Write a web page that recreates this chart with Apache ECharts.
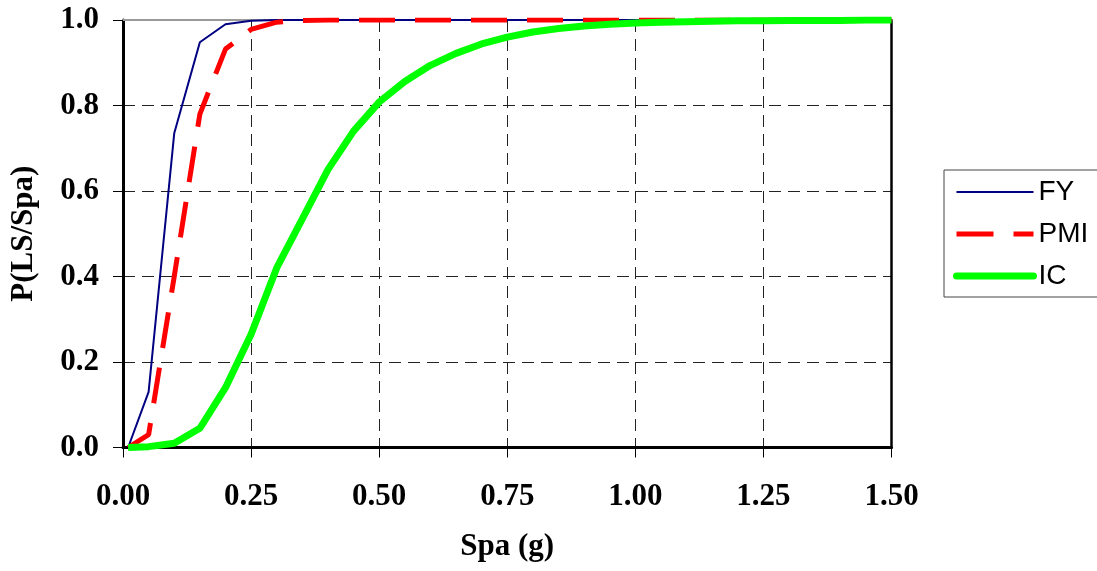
<!DOCTYPE html>
<html>
<head>
<meta charset="utf-8">
<title>P(LS/Spa) fragility curves</title>
<script src="https://cdn.jsdelivr.net/npm/echarts@6/dist/echarts.min.js"></script>
<style>
  html, body { margin: 0; padding: 0; background: #fff; }
  #chart { width: 1097px; height: 571px; }
</style>
</head>
<body>
<div id="chart"></div>
<script>
// Spectral acceleration Spa (g) at which each curve is evaluated
const spa = [0.01, 0.05, 0.10, 0.15, 0.20, 0.25, 0.30, 0.35, 0.40, 0.45, 0.50,
             0.55, 0.60, 0.65, 0.70, 0.75, 0.80, 0.85, 0.90, 0.95, 1.00,
             1.05, 1.10, 1.15, 1.20, 1.25, 1.30, 1.35, 1.40, 1.45, 1.50];

// Probability of reaching each limit state
const fy  = [0.000, 0.130, 0.735, 0.948, 0.990, 0.998, 1.000, 1.000, 1.000, 1.000, 1.000,
             1.000, 1.000, 1.000, 1.000, 1.000, 1.000, 1.000, 1.000, 1.000, 1.000,
             1.000, 1.000, 1.000, 1.000, 1.000, 1.000, 1.000, 1.000, 1.000, 1.000];
const pmi = [0.000, 0.030, 0.400, 0.780, 0.932, 0.978, 0.995, 0.999, 1.000, 1.000, 1.000,
             1.000, 1.000, 1.000, 1.000, 1.000, 1.000, 1.000, 1.000, 1.000, 1.000,
             1.000, 1.000, 1.000, 1.000, 1.000, 1.000, 1.000, 1.000, 1.000, 1.000];
const ic  = [0.000, 0.002, 0.010, 0.045, 0.140, 0.265, 0.420, 0.535, 0.650, 0.740, 0.808,
             0.856, 0.894, 0.922, 0.944, 0.960, 0.972, 0.980, 0.986, 0.990, 0.993,
             0.995, 0.996, 0.997, 0.998, 0.998, 0.999, 0.999, 0.999, 1.000, 1.000];

// Tick labels
const xTickLabels = ['0.00', '0.25', '0.50', '0.75', '1.00', '1.25', '1.50'];
const yTickLabels = ['0.0', '0.2', '0.4', '0.6', '0.8', '1.0'];

const seriesNames = ['FY', 'PMI', 'IC'];

const pairs = ys => spa.map((x, i) => [x, ys[i]]);

const serifBold = {
  fontFamily: '"Liberation Serif", "Times New Roman", serif',
  fontWeight: 'bold',
  fontSize: 31,
  color: '#000'
};

const gridDash = { color: '#222', width: 1, type: [12, 7] };

const chart = echarts.init(document.getElementById('chart'));

chart.setOption({
  animation: false,
  backgroundColor: '#fff',
  grid: { left: 122, top: 20, width: 769.5, height: 427.5, containLabel: false },
  legend: {
    orient: 'vertical',
    left: 944,
    top: 170,
    padding: [8, 10, 7, 9],
    itemWidth: 77,
    itemHeight: 28,
    itemGap: 14,
    borderColor: '#444',
    borderWidth: 1,
    itemStyle: { opacity: 0 },
    textStyle: {
      fontFamily: '"Liberation Sans", Arial, sans-serif',
      fontSize: 28,
      color: '#000'
    },
    data: [
      { name: 'FY',  lineStyle: { width: 2 } },
      { name: 'PMI', lineStyle: { width: 5, type: [37, 20] } },
      { name: 'IC',  lineStyle: { width: 7, cap: 'round' } }
    ]
  },
  xAxis: [
    {
      type: 'value',
      position: 'bottom',
      min: 0, max: 1.5, interval: 0.25,
      name: 'Spa (g)',
      nameLocation: 'middle',
      nameGap: 84,
      nameTextStyle: serifBold,
      axisLine: { show: true, onZero: false, lineStyle: { color: '#000', width: 3 } },
      axisTick: { show: true, inside: false, length: 10, lineStyle: { color: '#000', width: 1 } },
      axisLabel: {
        ...serifBold,
        margin: 34,
        formatter: v => xTickLabels[Math.round(v / 0.25)]
      },
      splitLine: { show: true, showMinLine: false, showMaxLine: false, lineStyle: gridDash }
    },
    {
      type: 'value',
      position: 'top',
      min: 0, max: 1.5, interval: 0.25,
      axisLine: { show: true, onZero: false, lineStyle: { color: '#999', width: 2 } },
      axisTick: { show: false },
      axisLabel: { show: false },
      splitLine: { show: false }
    }
  ],
  yAxis: [
    {
      type: 'value',
      position: 'left',
      min: 0, max: 1, interval: 0.2,
      name: 'P(LS/Spa)',
      nameLocation: 'middle',
      nameGap: 84,
      nameRotate: 90,
      nameTextStyle: serifBold,
      axisLine: { show: true, onZero: false, lineStyle: { color: '#000', width: 3 } },
      axisTick: { show: true, inside: false, length: 10, lineStyle: { color: '#000', width: 1 } },
      axisLabel: {
        ...serifBold,
        margin: 24,
        formatter: v => yTickLabels[Math.round(v / 0.2)]
      },
      splitLine: { show: true, showMinLine: false, showMaxLine: false, lineStyle: gridDash }
    },
    {
      type: 'value',
      position: 'right',
      min: 0, max: 1, interval: 0.2,
      axisLine: { show: true, onZero: false, lineStyle: { color: '#000', width: 2.5 } },
      axisTick: { show: false },
      axisLabel: { show: false },
      splitLine: { show: false }
    }
  ],
  series: [
    {
      name: seriesNames[0],
      type: 'line',
      data: pairs(fy),
      symbol: 'none',
      clip: true,
      lineStyle: { color: '#000080', width: 2 },
      itemStyle: { color: '#000080' }
    },
    {
      name: seriesNames[1],
      type: 'line',
      data: pairs(pmi),
      symbol: 'none',
      clip: true,
      lineStyle: { color: '#ff0000', width: 5, type: [36, 20] },
      itemStyle: { color: '#ff0000' }
    },
    {
      name: seriesNames[2],
      type: 'line',
      data: pairs(ic),
      symbol: 'none',
      clip: true,
      lineStyle: { color: '#00ff00', width: 7 },
      itemStyle: { color: '#00ff00' }
    }
  ]
});
</script>
</body>
</html>
